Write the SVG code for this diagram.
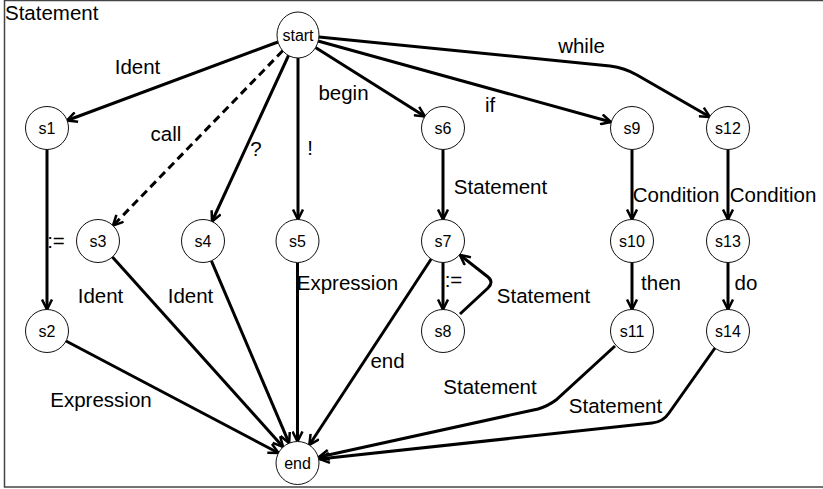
<svg xmlns="http://www.w3.org/2000/svg" width="823" height="489" viewBox="0 0 823 489">
  <style>
    .frame { fill: #ffffff; stroke: #444444; stroke-width: 1.5; }
    .node circle, .node ellipse { fill: #ffffff; stroke: #111111; stroke-width: 1; }
    .node text { font-family: "Liberation Sans", Arial, sans-serif; font-size: 16px; fill: #000000; text-anchor: middle; }
    .edge { fill: none; stroke: #000000; stroke-width: 3; marker-end: url(#arrow); }
    .dashed { stroke-dasharray: 8 5; }
    .label { font-family: "Liberation Sans", Arial, sans-serif; font-size: 20.5px; fill: #000000; text-anchor: middle; }
    .title { font-family: "Liberation Sans", Arial, sans-serif; font-size: 20.5px; fill: #000000; }
  </style>
  <defs>
    <marker id="arrow" viewBox="0 0 12 12" refX="11" refY="6" markerWidth="12" markerHeight="12" markerUnits="userSpaceOnUse" orient="auto">
      <path d="M1,1 L11,6 L1,11" fill="none" stroke="#000000" stroke-width="2.5" stroke-linejoin="miter"/>
    </marker>
  </defs>

  <!-- frame and its caption -->
  <rect class="frame" x="4.5" y="0.5" width="830" height="486.5"/>
  <text class="title" x="5" y="20">Statement</text>

  <!-- transitions -->
  <g id="connectors">
    <path class="edge" d="M278,42 L67,120.5"/>
    <path class="edge dashed" d="M282.7,50.8 L113,225.6"/>
    <path class="edge" d="M288.5,55.5 L212,221.5"/>
    <path class="edge" d="M298,58 L298,219.5"/>
    <path class="edge" d="M315.5,47.5 L425,116.4"/>
    <path class="edge" d="M318,41 L611,122"/>
    <path class="edge" d="M319,37 L610,66 Q625,68 637,75 L710,117"/>

    <path class="edge" d="M47,149.5 L47,309.5"/>
    <path class="edge" d="M443,149.5 L443,219.5"/>
    <path class="edge" d="M443,262.5 L443,309.5"/>
    <path class="edge" d="M460,314 L488,288 Q494,282 488,277 L460,255"/>
    <path class="edge" d="M632,149.5 L632,219.5"/>
    <path class="edge" d="M632,262.5 L632,309.5"/>
    <path class="edge" d="M728,149.5 L728,219.5"/>
    <path class="edge" d="M728,262.5 L728,309.5"/>

    <path class="edge" d="M66,341 L278.5,453"/>
    <path class="edge" d="M112.4,257 L283.1,447"/>
    <path class="edge" d="M211.4,260.8 L289.1,443.2"/>
    <path class="edge" d="M297.5,263 L297.5,441.5"/>
    <path class="edge" d="M431.2,259 L309.3,445"/>
    <path class="edge" d="M615,346 L556,400 Q548,406 538,409 L319,457"/>
    <path class="edge" d="M715,348 L669,413 Q663,422 652,423 L319.5,459"/>
  </g>

  <!-- transition labels -->
  <g id="labels">
    <text class="label" x="137.5" y="73.5">Ident</text>
    <text class="label" x="166" y="141">call</text>
    <text class="label" x="256" y="156">?</text>
    <text class="label" x="310" y="154.5">!</text>
    <text class="label" x="343.5" y="100">begin</text>
    <text class="label" x="490" y="111.5">if</text>
    <text class="label" x="581.5" y="53">while</text>
    <text class="label" x="56" y="248">:=</text>
    <text class="label" x="500.5" y="194">Statement</text>
    <text class="label" x="676" y="201.5">Condition</text>
    <text class="label" x="773" y="201.5">Condition</text>
    <text class="label" x="100.5" y="303">Ident</text>
    <text class="label" x="190.5" y="303">Ident</text>
    <text class="label" x="347.5" y="290">Expression</text>
    <text class="label" x="453.5" y="287">:=</text>
    <text class="label" x="543.5" y="302.5">Statement</text>
    <text class="label" x="661" y="290">then</text>
    <text class="label" x="746" y="290">do</text>
    <text class="label" x="387.5" y="368">end</text>
    <text class="label" x="490" y="394">Statement</text>
    <text class="label" x="615.5" y="413">Statement</text>
    <text class="label" x="101" y="406.5">Expression</text>
  </g>

  <!-- states -->
  <g id="start" class="node"><ellipse cx="298" cy="35" rx="21" ry="23"/><text x="298" y="41">start</text></g>
  <g id="s1" class="node"><circle cx="47" cy="128" r="21.5"/><text x="47" y="134">s1</text></g>
  <g id="s6" class="node"><circle cx="443" cy="128" r="21.5"/><text x="443" y="134">s6</text></g>
  <g id="s9" class="node"><circle cx="632" cy="128" r="21.5"/><text x="632" y="134">s9</text></g>
  <g id="s12" class="node"><circle cx="728" cy="128" r="21.5"/><text x="728" y="134">s12</text></g>
  <g id="s3" class="node"><circle cx="98" cy="241" r="21.5"/><text x="98" y="247">s3</text></g>
  <g id="s4" class="node"><circle cx="203" cy="241" r="21.5"/><text x="203" y="247">s4</text></g>
  <g id="s5" class="node"><circle cx="297.5" cy="241" r="21.5"/><text x="297.5" y="247">s5</text></g>
  <g id="s7" class="node"><circle cx="443" cy="241" r="21.5"/><text x="443" y="247">s7</text></g>
  <g id="s10" class="node"><circle cx="632" cy="241" r="21.5"/><text x="632" y="247">s10</text></g>
  <g id="s13" class="node"><circle cx="728" cy="241" r="21.5"/><text x="728" y="247">s13</text></g>
  <g id="s2" class="node"><circle cx="47" cy="331" r="21.5"/><text x="47" y="337">s2</text></g>
  <g id="s8" class="node"><circle cx="443" cy="331" r="21.5"/><text x="443" y="337">s8</text></g>
  <g id="s11" class="node"><circle cx="632" cy="331" r="21.5"/><text x="632" y="337">s11</text></g>
  <g id="s14" class="node"><circle cx="728" cy="331" r="21.5"/><text x="728" y="337">s14</text></g>
  <g id="end" class="node"><circle cx="297.5" cy="463" r="21.5"/><text x="297.5" y="469">end</text></g>
</svg>
